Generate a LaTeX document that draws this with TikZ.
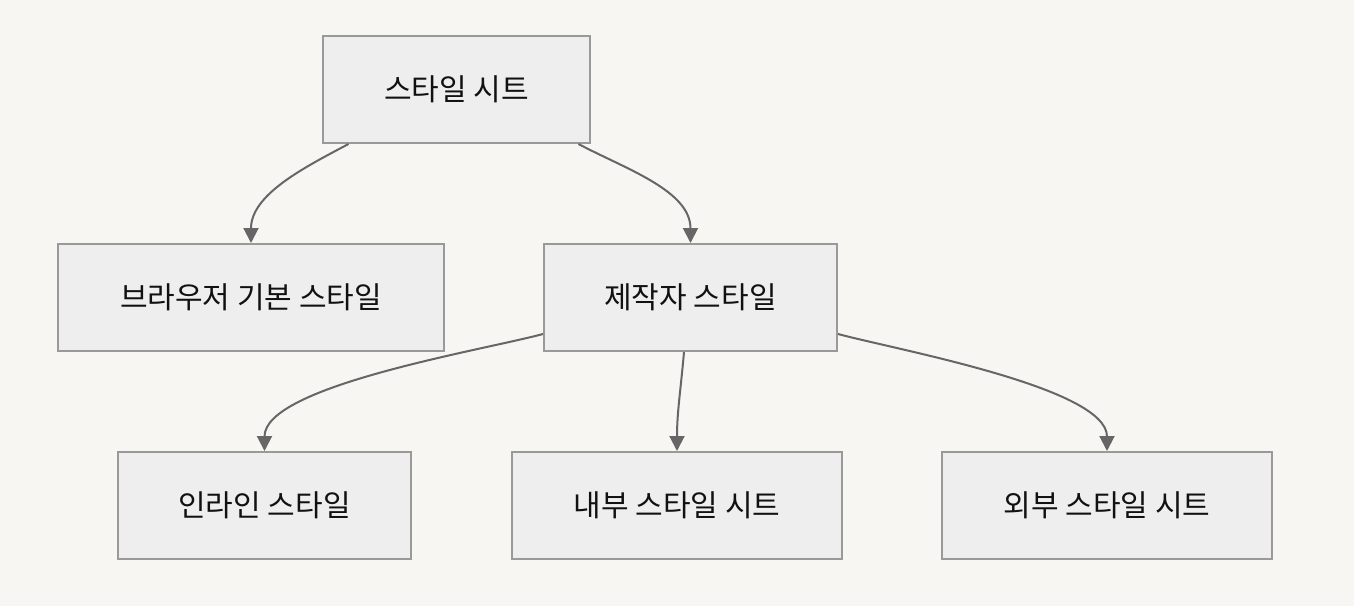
\documentclass[tikz,border=0pt]{standalone}
\usepackage{xcolor}
\usepackage{fontspec}
\usepackage{tikz}
\usetikzlibrary{positioning,arrows.meta}
\newfontfamily\krfont{Noto Sans CJK KR}
\definecolor{cbg}{HTML}{F7F6F3}
\definecolor{cfill}{HTML}{EEEEEE}
\definecolor{cborder}{HTML}{999999}
\definecolor{cline}{HTML}{666666}
\definecolor{ctext}{HTML}{111111}
\tikzset{
  stylebox/.style={draw=cborder, line width=1pt, fill=cfill, align=center,
    minimum height=53.5pt, text=ctext, font=\krfont\fontsize{15pt}{18pt}\selectfont},
  stylearrow/.style={-{Triangle[length=7.5pt,width=7.5pt]}, line width=1pt, color=cline}
}

\begin{document}
\begin{tikzpicture}[node distance=49.5pt and 49pt]
    \useasboundingbox[fill=cbg] (-228.25pt,44.75pt) rectangle (448.75pt,-258.25pt);
    \node[stylebox, minimum width=133.5pt] (sheet) at (0,0) {스타일 시트};
    \node[stylebox, minimum width=146.5pt, below right=49.5pt and -24pt of sheet] (author) {제작자 스타일};
    \node[stylebox, minimum width=193pt, left=of author] (browser) {브라우저 기본 스타일};
    \node[stylebox, minimum width=165pt, below=of author, xshift=-6.75pt] (internal) {내부 스타일 시트};
    \node[stylebox, minimum width=146.5pt, left=49.5pt of internal] (inline) {인라인 스타일};
    \node[stylebox, minimum width=165pt, right=of internal] (external) {외부 스타일 시트};

    \draw[stylearrow] ([xshift=-54pt]sheet.south) to[out=208, in=90, looseness=0.9] (browser.north);
    \draw[stylearrow] ([xshift=61pt]sheet.south) to[out=-28, in=90, looseness=0.9] (author.north);
    \draw[stylearrow] ([yshift=9pt]author.south west) to[out=195, in=90, looseness=0.55] (inline.north);
    \draw[stylearrow] ([xshift=-3.25pt]author.south) to[out=265, in=90] (internal.north);
    \draw[stylearrow] ([yshift=9pt]author.south east) to[out=-15, in=90, looseness=0.55] (external.north);
  \end{tikzpicture}
\end{document}
